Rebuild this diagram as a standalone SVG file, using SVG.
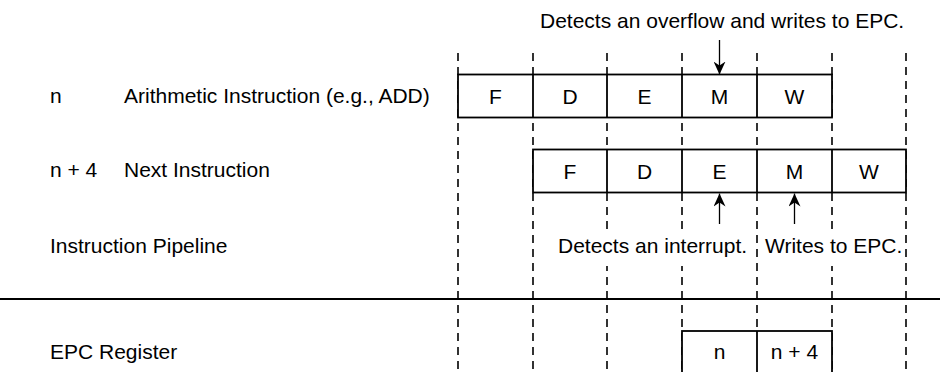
<svg xmlns="http://www.w3.org/2000/svg" width="940" height="372" viewBox="0 0 940 372">
<defs>
<marker id="ah" markerWidth="13" markerHeight="12" refX="13" refY="6" orient="auto" markerUnits="userSpaceOnUse">
<path d="M0,0 L13,6 L0,12 L4,6 Z" fill="#000"/>
</marker>
<style>
text{font-family:"Liberation Sans",Arial,sans-serif;font-size:21px;fill:#000}
.c{text-anchor:middle}
.box{fill:#fff;stroke:#000;stroke-width:1.8}
.dash{stroke:#000;stroke-width:1.6;stroke-dasharray:8 6;fill:none}
.ln{stroke:#000;stroke-width:1.8;fill:none}
.ar{stroke:#000;stroke-width:1.3;fill:none;marker-end:url(#ah)}
.bg{fill:#fff}
</style>
</defs>
<rect width="940" height="372" fill="#fff"/>
<g id="labels">
<text x="50" y="103">n</text>
<text x="124" y="103">Arithmetic Instruction (e.g., ADD)</text>
<text x="50" y="177">n + 4</text>
<text x="124" y="177">Next Instruction</text>
<text x="50" y="253">Instruction Pipeline</text>
<text x="50" y="359">EPC Register</text>
</g>
<g id="connectors">
<line class="ln" x1="0" y1="299" x2="940" y2="299"/>
<line class="dash" x1="458" y1="53" x2="458" y2="372"/>
<line class="dash" x1="533" y1="53" x2="533" y2="372"/>
<line class="dash" x1="607" y1="53" x2="607" y2="372"/>
<line class="dash" x1="682" y1="53" x2="682" y2="372"/>
<line class="dash" x1="757" y1="53" x2="757" y2="372"/>
<line class="dash" x1="832" y1="53" x2="832" y2="372"/>
<line class="dash" x1="906" y1="53" x2="906" y2="372"/>
</g>
<g id="instr-n">
<rect class="box" x="458" y="74.5" width="374" height="43"/>
<line class="ln" x1="533" y1="74.5" x2="533" y2="117.5"/>
<line class="ln" x1="607" y1="74.5" x2="607" y2="117.5"/>
<line class="ln" x1="682" y1="74.5" x2="682" y2="117.5"/>
<line class="ln" x1="757" y1="74.5" x2="757" y2="117.5"/>
<text class="c" x="495.5" y="104">F</text>
<text class="c" x="570" y="104">D</text>
<text class="c" x="644.5" y="104">E</text>
<text class="c" x="719.5" y="104">M</text>
<text class="c" x="794.5" y="104">W</text>
</g>
<g id="instr-n4">
<rect class="box" x="533" y="149.5" width="373" height="43"/>
<line class="ln" x1="607" y1="149.5" x2="607" y2="192.5"/>
<line class="ln" x1="682" y1="149.5" x2="682" y2="192.5"/>
<line class="ln" x1="757" y1="149.5" x2="757" y2="192.5"/>
<line class="ln" x1="832" y1="149.5" x2="832" y2="192.5"/>
<text class="c" x="570" y="179">F</text>
<text class="c" x="644.5" y="179">D</text>
<text class="c" x="719.5" y="179">E</text>
<text class="c" x="794.5" y="179">M</text>
<text class="c" x="869" y="179">W</text>
</g>
<g id="epc">
<rect class="box" x="682" y="331" width="150" height="60"/>
<line class="ln" x1="757" y1="331" x2="757" y2="372"/>
<text class="c" x="719.5" y="359">n</text>
<text class="c" x="794.5" y="359">n + 4</text>
</g>
<g id="arrows">
<line class="ar" x1="719.5" y1="40" x2="719.5" y2="74.5"/>
<line class="ar" x1="719.5" y1="224" x2="719.5" y2="193.5"/>
<line class="ar" x1="794.5" y1="224" x2="794.5" y2="193.5"/>
</g>
<g id="notes">
<text x="540" y="28">Detects an overflow and writes to EPC.</text>
<rect class="bg" x="548" y="229" width="200" height="37"/>
<text x="558" y="253">Detects an interrupt.</text>
<rect class="bg" x="763" y="229" width="141" height="37"/>
<text x="765" y="253">Writes to EPC.</text>
</g>
</svg>
